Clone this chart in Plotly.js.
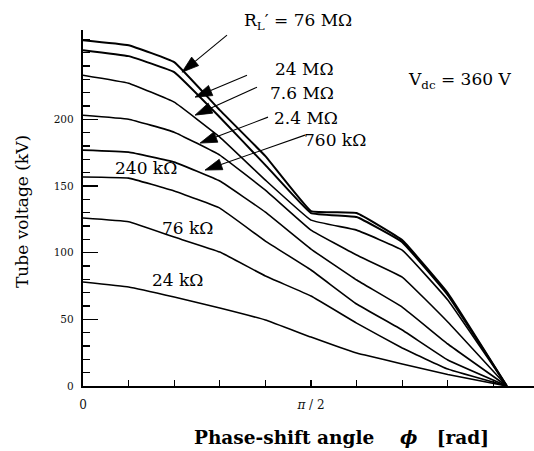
<!DOCTYPE html>
<html><head><meta charset="utf-8">
<script src="https://cdn.plot.ly/plotly-3.0.1.min.js"></script>
<style>html,body{margin:0;padding:0;background:#fff}</style>
</head><body><div id="chart" style="width:534px;height:451px"></div>
<script>
const PI = Math.PI;
// phase-shift angle (rad)
const phi = [0, 0.1*PI, 0.2*PI, 0.3*PI, 0.4*PI, 0.5*PI, 0.6*PI, 0.7*PI, 0.8*PI, 2.92];
// tube voltage (kV) for each load resistance
const v76M  = [259.4, 255.6, 242.9, 206.9, 172.4, 131.2, 129.7, 109.4, 69.7, 0];
const v24M  = [251.9, 247.4, 235.4, 201.6, 165.7, 129.7, 126.7, 107.9, 68.2, 0];
const v7_6M = [233.1, 227.1, 212.9, 186.7, 154.4, 124.4, 116.9, 101.9, 64.5, 0];
const v2_4M = [203.1, 200.1, 190.4, 173.2, 146.9, 116.9, 98.2, 81.7, 48.0, 0];
const v760k = [176.9, 175.4, 167.9, 153.7, 130.4, 102.7, 79.5, 59.2, 31.5, 0];
const v240k = [156.7, 155.9, 146.2, 133.4, 108.7, 87.0, 61.5, 42.0, 19.5, 0];
const v76k  = [126.0, 123.2, 111.7, 100.5, 82.5, 67.5, 47.2, 28.5, 12.7, 0];
const v24k  = [78.0, 74.2, 66.7, 58.5, 49.5, 36.7, 24.7, 16.5, 8.6, 0];
const seriesNames = ['76 MΩ','24 MΩ','7.6 MΩ','2.4 MΩ','760 kΩ','240 kΩ','76 kΩ','24 kΩ'];
const seriesVals = [v76M, v24M, v7_6M, v2_4M, v760k, v240k, v76k, v24k];
const yTickVals = [0, 50, 100, 150, 200];
const yTickText = ['0', '50', '100', '150', '200'];
const xTickVals = [0, PI/2];
const xTickText = ['0', '<i>π</i> / 2'];

// pixel helpers for annotation placement (plot area: left 83, top 30, 451 x 356)
const X0 = 83, Y0 = 386, PXR = 145.15, PXK = 1.334, PW = 451, PH = 356;
const dx = px => (px - X0) / PXR;
const dy = py => (Y0 - py) / PXK;
const pxp = px => (px - X0) / PW;
const pyp = py => (Y0 - py) / PH;

const traces = seriesVals.map((v, i) => ({
  x: phi, y: v, type: 'scatter', mode: 'lines', name: seriesNames[i],
  line: {color: '#000', width: i < 2 ? 2 : 1.6, shape: 'spline', smoothing: 0.25}, hoverinfo: 'skip'
}));

const minorX = []; for (let k = 1; k < 10; k++) if (k !== 5) minorX.push(k*PI/10);
const minorY = []; for (let v = 10; v <= 260; v += 10) if (v % 50 || v === 250) minorY.push(v);

const F = 'DejaVu Serif, Liberation Serif, serif';
const lab = (text, px, py, size) => ({
  text, x: pxp(px), y: pyp(py), xref: 'paper', yref: 'paper', showarrow: false,
  font: {family: F, size: size || 17, color: '#000'}, xanchor: 'center', yanchor: 'middle'
});

// leader arrows drawn as shapes: line + filled triangular head
function arrowShapes(tipx, tipy, tailx, taily) {
  const L = 17, W = 5.5;
  const ux = tipx - tailx, uy = tipy - taily, n = Math.hypot(ux, uy);
  const ex = ux / n, ey = uy / n;
  const bx = tipx - L * ex, by = tipy - L * ey;
  const c1x = bx - W * ey, c1y = by + W * ex, c2x = bx + W * ey, c2y = by - W * ex;
  return [
    {type: 'line', xref: 'x', yref: 'y', x0: dx(tailx), y0: dy(taily), x1: dx(bx), y1: dy(by),
     line: {color: '#000', width: 1.1}},
    {type: 'path', xref: 'x', yref: 'y', fillcolor: '#000', line: {color: '#000', width: 0.8},
     path: `M${dx(tipx)},${dy(tipy)} L${dx(c1x)},${dy(c1y)} L${dx(c2x)},${dy(c2y)} Z`}
  ];
}
const shapes = [].concat(
  arrowShapes(182, 72, 227, 35),
  arrowShapes(195, 97, 247, 75),
  arrowShapes(195, 115, 257, 87),
  arrowShapes(200, 143, 268, 117),
  arrowShapes(205, 170, 305, 135)
);

const annotations = [
  lab('R<sub>L</sub>\u2032 = 76 MΩ', 298, 21),
  lab('24 MΩ', 304, 69),
  lab('7.6 MΩ', 302, 93),
  lab('2.4 MΩ', 306, 118),
  lab('760 kΩ', 335, 140),
  lab('V<sub>dc</sub> = 360 V', 459, 80),
  lab('240 kΩ', 146, 168),
  lab('76 kΩ', 187, 228),
  lab('24 kΩ', 177, 280),
  {text: 'Tube voltage (kV)', xref: 'paper', yref: 'paper', x: pxp(22), y: pyp(212),
   textangle: -90, showarrow: false, font: {family: F, size: 17, color: '#000'},
   xanchor: 'center', yanchor: 'middle'},
  {text: '<b>Phase-shift angle\u00a0\u00a0\u00a0\u00a0<i>ϕ</i>\u00a0\u00a0\u00a0[rad]</b>', xref: 'paper', yref: 'paper',
   x: pxp(341), y: pyp(437), showarrow: false,
   font: {family: F, size: 18.5, color: '#000'}, xanchor: 'center', yanchor: 'middle'}
];

const layout = {
  width: 534, height: 451,
  margin: {l: 83, r: 0, t: 30, b: 65, pad: 0},
  paper_bgcolor: '#fff', plot_bgcolor: '#fff',
  showlegend: false,
  xaxis: {
    range: [0, PW / PXR], showgrid: false, zeroline: false,
    showline: true, linecolor: '#000', linewidth: 1.5,
    ticks: 'inside', ticklen: 6, tickwidth: 1.2, tickcolor: '#000',
    tickvals: xTickVals, ticktext: xTickText, ticklabelstandoff: 7,
    tickfont: {family: F, size: 12, color: '#111'},
    minor: {tickvals: minorX, ticks: 'inside', ticklen: 6, tickwidth: 1.2, tickcolor: '#000', showgrid: false}
  },
  yaxis: {
    range: [0, 267], showgrid: false, zeroline: false,
    showline: true, linecolor: '#000', linewidth: 2.2,
    ticks: 'inside', ticklen: 15, tickwidth: 1.6, tickcolor: '#000',
    tickvals: yTickVals, ticktext: yTickText, ticklabelstandoff: 5,
    tickfont: {family: F, size: 10.5, color: '#111'},
    minor: {tickvals: minorY, ticks: 'inside', ticklen: 7, tickwidth: 1.2, tickcolor: '#000', showgrid: false}
  },
  shapes,
  annotations
};

Plotly.newPlot('chart', traces, layout, {displayModeBar: false, staticPlot: true});
</script></body></html>
